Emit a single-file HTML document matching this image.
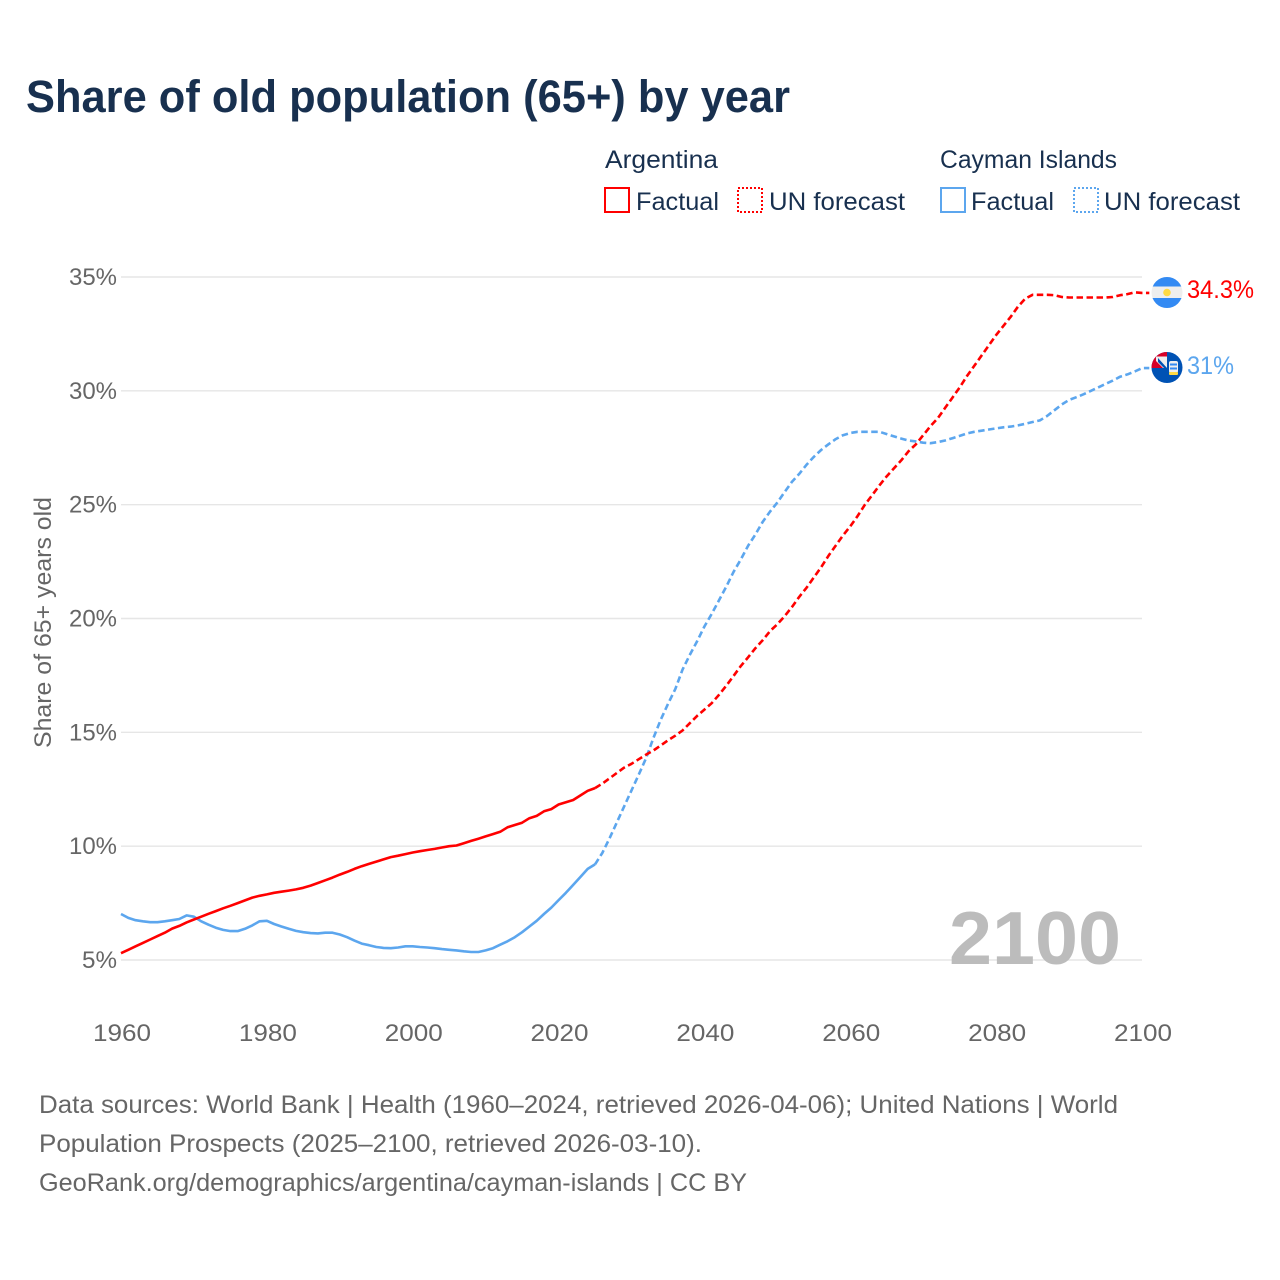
<!DOCTYPE html>
<html>
<head>
<meta charset="utf-8">
<title>Share of old population (65+) by year</title>
<style>
html,body{margin:0;padding:0;background:#fff;width:1280px;height:1280px;overflow:hidden}
svg{display:block}
text{font-family:"Liberation Sans",sans-serif}
</style>
</head>
<body>
<svg id="chart" width="1280" height="1280" viewBox="0 0 1280 1280" xmlns="http://www.w3.org/2000/svg">
<text x="26" y="112" font-size="45" font-weight="700" fill="#18304f" textLength="764" lengthAdjust="spacingAndGlyphs">Share of old population (65+) by year</text>

<g font-size="25" fill="#18304f">
<text x="605" y="168" textLength="113" lengthAdjust="spacingAndGlyphs">Argentina</text>
<g>
<rect x="605" y="188" width="24" height="24" fill="none" stroke="#ff0000" stroke-width="2"/>
<text x="636" y="210" textLength="83" lengthAdjust="spacingAndGlyphs">Factual</text>
</g>
<g>
<rect x="738" y="188" width="24" height="24" fill="none" stroke="#ff0000" stroke-width="2" stroke-dasharray="2 2"/>
<text x="769" y="210" textLength="136" lengthAdjust="spacingAndGlyphs">UN forecast</text>
</g>
<text x="940" y="168" textLength="177" lengthAdjust="spacingAndGlyphs">Cayman Islands</text>
<g>
<rect x="941" y="188" width="24" height="24" fill="none" stroke="#5ca6ee" stroke-width="2"/>
<text x="971" y="210" textLength="83" lengthAdjust="spacingAndGlyphs">Factual</text>
</g>
<g>
<rect x="1074" y="188" width="24" height="24" fill="none" stroke="#5ca6ee" stroke-width="2" stroke-dasharray="2 2"/>
<text x="1104" y="210" textLength="136" lengthAdjust="spacingAndGlyphs">UN forecast</text>
</g>
</g>

<g id="grid"></g>
<g id="yticks" font-size="24" fill="#666666" text-anchor="end"></g>
<g id="xticks" font-size="24" fill="#666666" text-anchor="middle"></g>
<text transform="translate(51,748) rotate(-90)" font-size="24" fill="#666666" textLength="251" lengthAdjust="spacingAndGlyphs">Share of 65+ years old</text>

<text x="949" y="964" font-size="75" font-weight="700" fill="#bcbcbc" textLength="172" lengthAdjust="spacingAndGlyphs">2100</text>

<g id="series"></g>

<g>
<clipPath id="clip-ar"><circle cx="1167" cy="292.500" r="15.500"/></clipPath>
<g clip-path="url(#clip-ar)">
<rect x="1151" y="277" width="32" height="31" fill="#eeeeee"/>
<rect x="1151" y="277" width="32" height="9.500" fill="#338af3"/>
<rect x="1151" y="298" width="32" height="10" fill="#338af3"/>
<circle cx="1167" cy="292.500" r="3.800" fill="#ffda44"/>
</g>
</g>
<g>
<clipPath id="clip-ky"><circle cx="1167" cy="367.500" r="15.500"/></clipPath>
<g clip-path="url(#clip-ky)">
<rect x="1151" y="352" width="32" height="31" fill="#0052b4"/>
<rect x="1151" y="352" width="16" height="16" fill="#d80027"/>
<path d="M1156 356.500h11v11.500h-4l-7-7z" fill="#eeeeee"/>
<path d="M1158 358l9 10h-3l-6-6z" fill="#0052b4"/>
<rect x="1169" y="361" width="9" height="12" rx="2" fill="#eeeeee"/>
<rect x="1170" y="363.500" width="7" height="2" fill="#338af3"/>
<rect x="1170" y="367.500" width="7" height="2" fill="#338af3"/>
<rect x="1169" y="372" width="9" height="3" rx="1" fill="#ffda44"/>
</g>
</g>

<text id="label-ar" x="1187" y="298" font-size="25" fill="#ff0000" textLength="67" lengthAdjust="spacingAndGlyphs">34.3%</text>
<text id="label-ky" x="1187" y="374" font-size="25" fill="#5ca6ee" textLength="47" lengthAdjust="spacingAndGlyphs">31%</text>

<g font-size="25" fill="#666666">
<text x="39" y="1113" textLength="1079" lengthAdjust="spacingAndGlyphs">Data sources: World Bank | Health (1960–2024, retrieved 2026-04-06); United Nations | World</text>
<text x="39" y="1152" textLength="663" lengthAdjust="spacingAndGlyphs">Population Prospects (2025–2100, retrieved 2026-03-10).</text>
<text x="39" y="1191" textLength="708" lengthAdjust="spacingAndGlyphs">GeoRank.org/demographics/argentina/cayman-islands | CC BY</text>
</g>
</svg>

<script>
const xTickYears = [1960, 1980, 2000, 2020, 2040, 2060, 2080, 2100];
const yTickValues = [5, 10, 15, 20, 25, 30, 35];
const factualStartYear = 1960;
const forecastStartYear = 2025;

const argentinaFactual = [5.3,5.45,5.6,5.75,5.9,6.05,6.2,6.38,6.5,6.65,6.78,6.9,7.03,7.15,7.27,7.38,7.5,7.62,7.74,7.82,7.88,7.95,8.0,8.05,8.1,8.17,8.27,8.38,8.5,8.62,8.75,8.87,9.0,9.12,9.22,9.32,9.42,9.52,9.58,9.65,9.72,9.78,9.83,9.88,9.94,10.0,10.03,10.13,10.23,10.33,10.43,10.53,10.63,10.83,10.93,11.03,11.23,11.33,11.53,11.63,11.83,11.93,12.03,12.23,12.43,12.55];
const argentinaForecast = [12.55,12.75,12.98,13.22,13.45,13.62,13.82,14.02,14.2,14.42,14.65,14.85,15.08,15.4,15.72,16.0,16.28,16.65,17.05,17.48,17.92,18.3,18.7,19.05,19.45,19.75,20.1,20.5,20.95,21.35,21.8,22.25,22.75,23.2,23.65,24.05,24.5,25.0,25.42,25.85,26.25,26.6,26.95,27.35,27.65,28.05,28.45,28.8,29.25,29.7,30.15,30.65,31.1,31.55,32.0,32.45,32.85,33.25,33.7,34.05,34.22,34.22,34.22,34.2,34.12,34.1,34.1,34.1,34.1,34.1,34.1,34.12,34.2,34.25,34.33,34.3];
const caymanFactual = [7.02,6.85,6.75,6.7,6.66,6.66,6.7,6.75,6.8,6.96,6.9,6.7,6.55,6.42,6.32,6.27,6.27,6.37,6.52,6.7,6.72,6.58,6.47,6.37,6.28,6.22,6.18,6.17,6.2,6.2,6.12,6.0,5.85,5.72,5.65,5.57,5.53,5.52,5.55,5.6,5.6,5.57,5.55,5.52,5.48,5.45,5.42,5.38,5.35,5.35,5.42,5.52,5.67,5.82,6.0,6.22,6.47,6.72,7.02,7.3,7.63,7.95,8.3,8.65,9.0,9.2];
const caymanForecast = [9.2,9.7,10.35,11.05,11.75,12.45,13.15,13.87,14.75,15.55,16.25,16.9,17.75,18.4,19.0,19.65,20.2,20.8,21.4,22.05,22.6,23.2,23.7,24.25,24.7,25.1,25.55,26.0,26.35,26.75,27.1,27.4,27.65,27.88,28.05,28.15,28.2,28.2,28.2,28.2,28.1,28.0,27.9,27.82,27.78,27.72,27.7,27.75,27.82,27.92,28.02,28.13,28.2,28.25,28.3,28.35,28.4,28.43,28.48,28.55,28.63,28.7,28.9,29.15,29.4,29.6,29.72,29.85,30.0,30.15,30.3,30.45,30.62,30.72,30.85,31.0];

const NS = 'http://www.w3.org/2000/svg';
const xScale = year => 121 + (year - 1960) * (1142 - 121) / 140;
const yScale = value => 960 - (value - 5) * (960 - 277) / 30;

const grid = document.getElementById('grid');
const yticks = document.getElementById('yticks');
const xticks = document.getElementById('xticks');
const seriesGroup = document.getElementById('series');

yTickValues.forEach(v => {
  const line = document.createElementNS(NS, 'line');
  
  
  line.setAttribute('x1', 121);
  line.setAttribute('x2', 1142);
  line.setAttribute('y1', yScale(v));
  line.setAttribute('y2', yScale(v));
  line.setAttribute('stroke', '#e6e6e6');
  line.setAttribute('stroke-width', 1.4);
  grid.appendChild(line);
  const t = document.createElementNS(NS, 'text');
  
  
  t.setAttribute('x', 117);
  t.setAttribute('y', yScale(v) + 8);
  t.setAttribute('textLength', v === 5 ? 35 : 48);
  t.setAttribute('lengthAdjust', 'spacingAndGlyphs');
  t.textContent = v + '%';
  yticks.appendChild(t);
});

xTickYears.forEach(y => {
  const t = document.createElementNS(NS, 'text');
  
  
  t.setAttribute('x', xScale(y) + 1);
  t.setAttribute('y', 1041);
  t.setAttribute('textLength', 58);
  t.setAttribute('lengthAdjust', 'spacingAndGlyphs');
  t.textContent = y;
  xticks.appendChild(t);
});

function pathFrom(values, startYear, extendToFlag) {
  let d = values.map((v, i) => (i ? 'L' : 'M') + xScale(startYear + i).toFixed(1) + ' ' + yScale(v).toFixed(1)).join(' ');
  if (extendToFlag) {
    d += ' L' + xScale(startYear + values.length).toFixed(1) + ' ' + yScale(values[values.length - 1]).toFixed(1);
  }
  return d;
}

function addLine(name, values, startYear, color, dashed) {
  const p = document.createElementNS(NS, 'path');
  
  
  p.setAttribute('d', pathFrom(values, startYear, dashed));
  p.setAttribute('fill', 'none');
  p.setAttribute('stroke', color);
  p.setAttribute('stroke-width', 2.6);
  p.setAttribute('stroke-linejoin', 'round');
  if (dashed) p.setAttribute('stroke-dasharray', '6.5 3.5');
  seriesGroup.appendChild(p);
}

addLine('line-cayman-factual', caymanFactual, factualStartYear, '#5ca6ee', false);
addLine('line-cayman-forecast', caymanForecast, forecastStartYear, '#5ca6ee', true);
addLine('line-argentina-factual', argentinaFactual, factualStartYear, '#ff0000', false);
addLine('line-argentina-forecast', argentinaForecast, forecastStartYear, '#ff0000', true);
</script>
</body>
</html>
